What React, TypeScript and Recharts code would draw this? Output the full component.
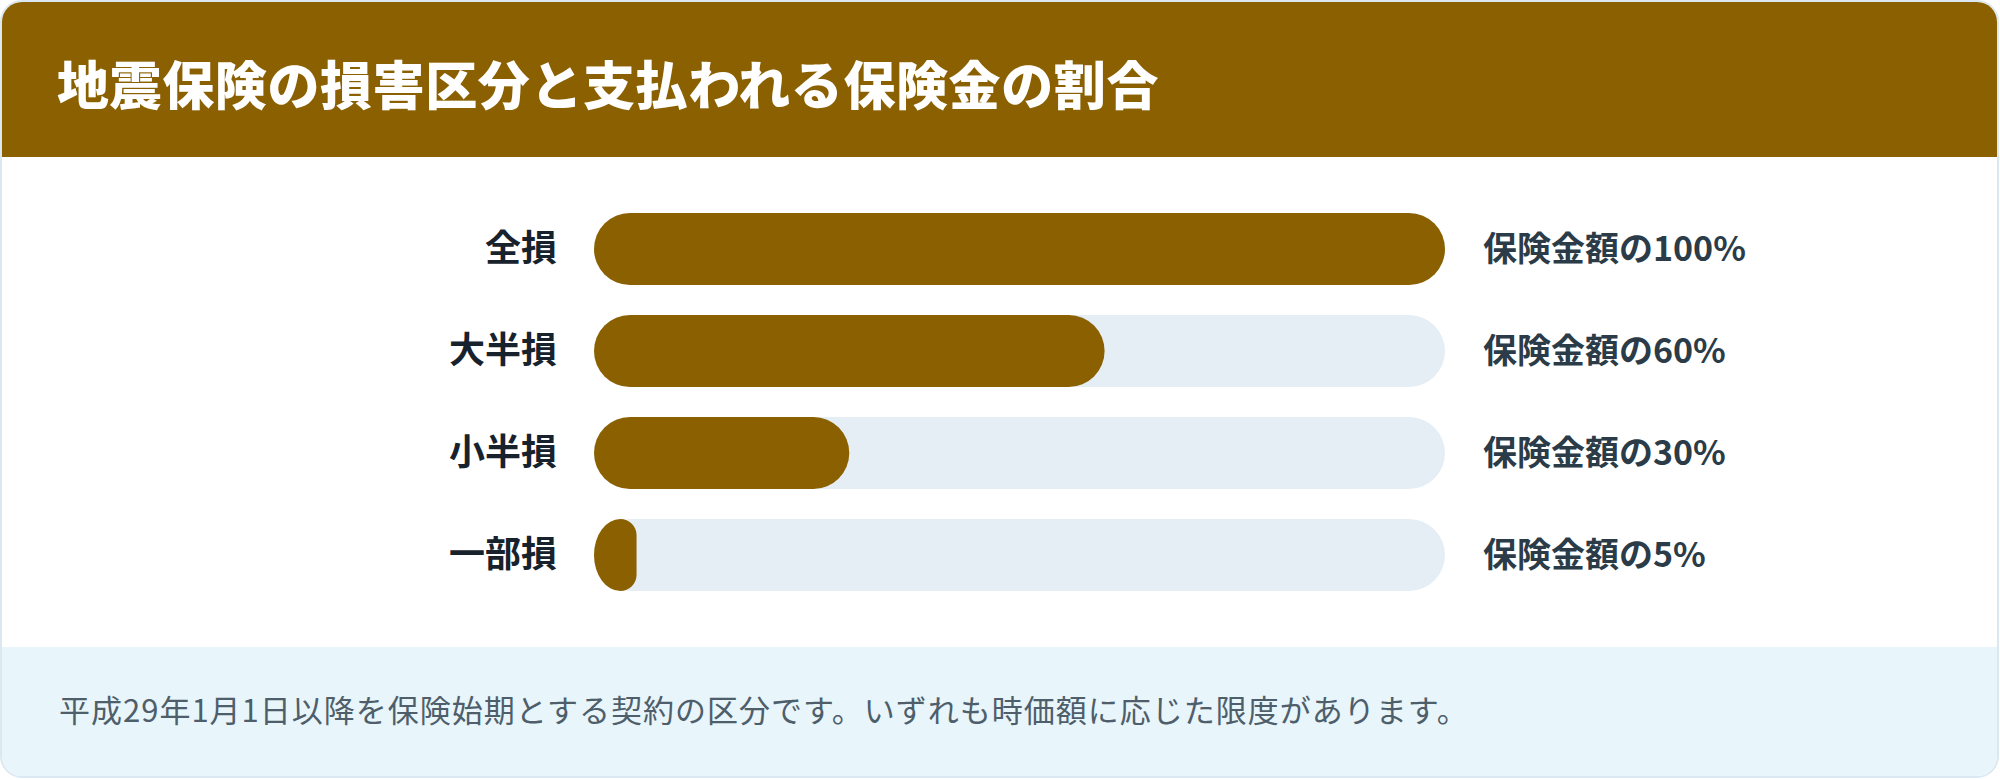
import React from 'react';
import { BarChart, Bar, XAxis, YAxis } from 'recharts';

const categories = ['全損', '大半損', '小半損', '一部損'];
const payoutPercents = [100, 60, 30, 5];
const payoutLabels = ['保険金額の100%', '保険金額の60%', '保険金額の30%', '保険金額の5%'];

const title = '地震保険の損害区分と支払われる保険金の割合';
const footnote = '平成29年1月1日以降を保険始期とする契約の区分です。いずれも時価額に応じた限度があります。';

const BROWN = '#8B6000';
const TRACK = '#E6EEF5';
const FONT = '"Noto Sans CJK JP", "Noto Sans", sans-serif';

const data = categories.map((name, i) => ({
  name,
  value: payoutPercents[i],
  label: payoutLabels[i],
}));

// pill shaped bar, narrow bars get an oval left end like the original
const PillBar = (props: any) => {
  const { x, y, width: w, height: h, fill } = props;
  if (!w || w <= 0) return null;
  const r = h / 2;
  if (w >= h) {
    return <rect x={x} y={y} width={w} height={h} rx={r} ry={r} fill={fill} />;
  }
  const lx = w * 0.62;
  const rr = w - lx;
  const d = [
    `M ${x + lx} ${y}`,
    `A ${rr} ${rr} 0 0 1 ${x + w} ${y + rr}`,
    `L ${x + w} ${y + h - rr}`,
    `A ${rr} ${rr} 0 0 1 ${x + lx} ${y + h}`,
    `A ${lx} ${r} 0 0 1 ${x} ${y + r}`,
    `A ${lx} ${r} 0 0 1 ${x + lx} ${y}`,
    'Z',
  ].join(' ');
  return <path d={d} fill={fill} />;
};

const CategoryTick = (props: any) => {
  const { x, y, payload } = props;
  return (
    <text
      x={x}
      y={y}
      dy={12}
      textAnchor="end"
      fill="#17222c"
      fontSize={36}
      fontWeight={700}
      fontFamily={FONT}
    >
      {payload.value}
    </text>
  );
};

const PayoutTick = (props: any) => {
  const { x, y, payload } = props;
  return (
    <text
      x={x}
      y={y}
      dy={12}
      textAnchor="start"
      fill="#2b3c48"
      fontSize={34}
      fontWeight={700}
      fontFamily={FONT}
    >
      {payload.value}
    </text>
  );
};

export default function App() {
  return (
    <>
      <style>{'body{margin:0;}'}</style>
      <div
        style={{
          position: 'relative',
          width: 2000,
          height: 780,
          background: '#fff',
          fontFamily: FONT,
          overflow: 'hidden',
        }}
      >
        <div
          style={{
            position: 'absolute',
            left: 0,
            top: 0,
            width: 1999,
            height: 778,
            boxSizing: 'border-box',
            border: '2px solid #DCE8F1',
            borderRadius: 22,
            overflow: 'hidden',
            background: '#fff',
          }}
        >
          <div
            style={{
              position: 'absolute',
              left: 0,
              top: 0,
              right: 0,
              height: 155,
              background: BROWN,
              display: 'flex',
              alignItems: 'center',
              paddingLeft: 55,
              paddingTop: 6,
              boxSizing: 'border-box',
              color: '#fff',
              fontSize: 52,
              fontWeight: 900,
              letterSpacing: 0.6,
            }}
          >
            {title}
          </div>

          <div style={{ position: 'absolute', left: -2, top: 155 }}>
            <BarChart
              width={2000}
              height={490}
              data={data}
              layout="vertical"
              margin={{ top: 41, right: 0, bottom: 41, left: 0 }}
              barSize={72}
            >
              <XAxis type="number" domain={[0, 100]} hide />
              <YAxis
                yAxisId="left"
                type="category"
                dataKey="name"
                width={594}
                axisLine={false}
                tickLine={false}
                tickSize={0}
                tickMargin={37}
                tick={<CategoryTick />}
              />
              <YAxis
                yAxisId="right"
                orientation="right"
                type="category"
                dataKey="label"
                width={555}
                axisLine={false}
                tickLine={false}
                tickSize={0}
                tickMargin={38}
                tick={<PayoutTick />}
              />
              <Bar
                yAxisId="left"
                dataKey="value"
                fill={BROWN}
                background={{ fill: TRACK, radius: 36 }}
                shape={<PillBar />}
                isAnimationActive={false}
              />
            </BarChart>
          </div>

          <div
            style={{
              position: 'absolute',
              left: 0,
              right: 0,
              bottom: 0,
              height: 129,
              background: '#E8F5FB',
              display: 'flex',
              alignItems: 'center',
              paddingLeft: 57,
              paddingBottom: 6,
              boxSizing: 'border-box',
              color: '#4E5E6A',
              fontSize: 31,
              fontWeight: 400,
              letterSpacing: 1,
            }}
          >
            {footnote}
          </div>
        </div>
      </div>
    </>
  );
}
